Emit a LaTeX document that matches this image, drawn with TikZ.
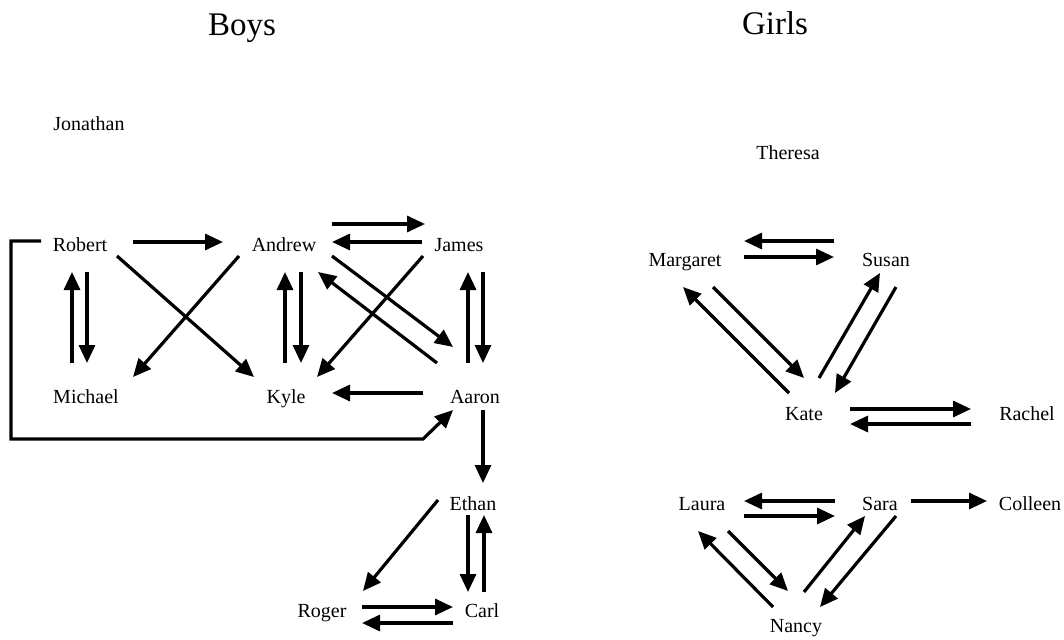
\documentclass[tikz,border=0pt]{standalone}
\usepackage{fontspec}
\setmainfont{Liberation Serif}
\usetikzlibrary{arrows.meta}
\begin{document}
\begin{tikzpicture}[x=1pt,y=-1pt,
  lbl/.style={inner sep=0pt,anchor=base,font=\fontsize{20}{24}\selectfont},
  ttl/.style={inner sep=0pt,anchor=base,font=\fontsize{33}{38}\selectfont},
  arr/.style={line width=3.2pt,-{Triangle[length=18pt,width=16pt]}}]
\useasboundingbox (0,0) rectangle (1064,639);
% titles
\node[ttl] (boys) at (242,36) {Boys};
\node[ttl] (girls) at (775,35) {Girls};
% boys
\node[lbl] (jonathan) at (89,131) {Jonathan};
\node[lbl] (robert) at (80,251) {Robert};
\node[lbl] (andrew) at (284,251) {Andrew};
\node[lbl] (james) at (459,251) {James};
\node[lbl] (michael) at (86,403) {Michael};
\node[lbl] (kyle) at (286,403) {Kyle};
\node[lbl] (aaron) at (475,403) {Aaron};
\node[lbl] (ethan) at (473,510) {Ethan};
\node[lbl] (carl) at (482,617) {Carl};
\node[lbl] (roger) at (322,617) {Roger};
% girls
\node[lbl] (theresa) at (788,160) {Theresa};
\node[lbl] (margaret) at (685,266) {Margaret};
\node[lbl] (susan) at (886,266) {Susan};
\node[lbl] (kate) at (804,420) {Kate};
\node[lbl] (rachel) at (1027,420) {Rachel};
\node[lbl] (laura) at (702,510) {Laura};
\node[lbl] (sara) at (880,510) {Sara};
\node[lbl] (colleen) at (1030,510) {Colleen};
\node[lbl] (nancy) at (796,632) {Nancy};
% boys arrows
\draw[arr] ([shift={(53,-9)}]robert.base) -- ([shift={(-61,-9)}]andrew.base);
\draw[arr] ([shift={(48,-27)}]andrew.base) -- ([shift={(-34,-27)}]james.base);
\draw[arr] ([shift={(-37,-9)}]james.base) -- ([shift={(48,-9)}]andrew.base);
\draw[arr] ([shift={(-14,-40)}]michael.base) -- ([shift={(-8,21)}]robert.base);
\draw[arr] ([shift={(7,21)}]robert.base) -- ([shift={(1,-40)}]michael.base);
\draw[arr] ([shift={(37,5)}]robert.base) -- ([shift={(-32,-26)}]kyle.base);
\draw[arr] ([shift={(-45,5)}]andrew.base) -- ([shift={(47,-26)}]michael.base);
\draw[arr] ([shift={(-1,-40)}]kyle.base) -- ([shift={(1,21)}]andrew.base);
\draw[arr] ([shift={(17,21)}]andrew.base) -- ([shift={(15,-40)}]kyle.base);
\draw[arr] ([shift={(-36,5)}]james.base) -- ([shift={(31,-26)}]kyle.base);
\draw[arr] ([shift={(48,5)}]andrew.base) -- ([shift={(-22,-56)}]aaron.base);
\draw[arr] ([shift={(-38,-40)}]aaron.base) -- ([shift={(34,21)}]andrew.base);
\draw[arr] ([shift={(-7,-40)}]aaron.base) -- ([shift={(9,21)}]james.base);
\draw[arr] ([shift={(24,21)}]james.base) -- ([shift={(8,-40)}]aaron.base);
\draw[arr] ([shift={(-52,-10)}]aaron.base) -- ([shift={(46,-10)}]kyle.base);
\draw[arr] ([shift={(-39,-10)}]robert.base) -- ++(-30,0) -- ++(0,198) -- ++(412,0) -- ([shift={(-22,7)}]aaron.base);
\draw[arr] ([shift={(8,7)}]aaron.base) -- ([shift={(10,-27)}]ethan.base);
\draw[arr] ([shift={(-35,-10)}]ethan.base) -- ([shift={(41,-26)}]roger.base);
\draw[arr] ([shift={(-5,5)}]ethan.base) -- ([shift={(-14,-25)}]carl.base);
\draw[arr] ([shift={(2,-25)}]carl.base) -- ([shift={(11,5)}]ethan.base);
\draw[arr] ([shift={(40,-10)}]roger.base) -- ([shift={(-29,-10)}]carl.base);
\draw[arr] ([shift={(-29,6)}]carl.base) -- ([shift={(40,6)}]roger.base);
% girls arrows
\draw[arr] ([shift={(-52,-25)}]susan.base) -- ([shift={(59,-25)}]margaret.base);
\draw[arr] ([shift={(59,-9)}]margaret.base) -- ([shift={(-52,-9)}]susan.base);
\draw[arr] ([shift={(28,21)}]margaret.base) -- ([shift={(0,-42)}]kate.base);
\draw[arr] ([shift={(-15,-27)}]kate.base) -- ([shift={(-2,21)}]margaret.base);
\draw[arr] ([shift={(15,-42)}]kate.base) -- ([shift={(-6,7)}]susan.base);
\draw[arr] ([shift={(10,21)}]susan.base) -- ([shift={(31,-27)}]kate.base);
\draw[arr] ([shift={(46,-11)}]kate.base) -- ([shift={(-56,-11)}]rachel.base);
\draw[arr] ([shift={(-56,4)}]rachel.base) -- ([shift={(46,4)}]kate.base);
\draw[arr] ([shift={(-45,-9)}]sara.base) -- ([shift={(42,-9)}]laura.base);
\draw[arr] ([shift={(42,6)}]laura.base) -- ([shift={(-45,6)}]sara.base);
\draw[arr] ([shift={(31,-9)}]sara.base) -- ([shift={(-43,-9)}]colleen.base);
\draw[arr] ([shift={(26,21)}]laura.base) -- ([shift={(-8,-41)}]nancy.base);
\draw[arr] ([shift={(-23,-25)}]nancy.base) -- ([shift={(-4,21)}]laura.base);
\draw[arr] ([shift={(8,-40)}]nancy.base) -- ([shift={(-15,6)}]sara.base);
\draw[arr] ([shift={(16,6)}]sara.base) -- ([shift={(24,-25)}]nancy.base);
\end{tikzpicture}
\end{document}
